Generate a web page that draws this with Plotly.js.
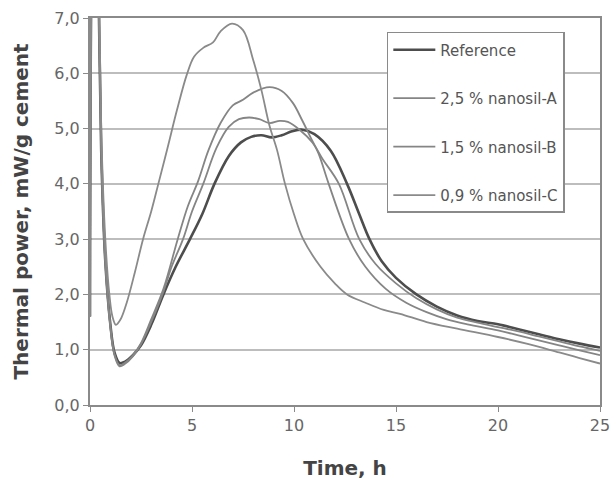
<!DOCTYPE html>
<html>
<head>
<meta charset="utf-8">
<script src="https://cdn.plot.ly/plotly-3.0.1.min.js"></script>
<style>
  html, body { margin: 0; padding: 0; background: #ffffff; }
  #chart { width: 613px; height: 483px; }
</style>
</head>
<body>
<div id="chart"></div>
<script>
// Heat flow calorimetry: thermal power of cement pastes, first 25 h
const seriesNames = ['Reference', '2,5 % nanosil-A', '1,5 % nanosil-B', '0,9 % nanosil-C'];

const refTime  = [0, 0.1, 0.25, 0.4, 0.55, 0.75, 1.0, 1.2, 1.45, 1.7, 2.1, 2.5, 3.0, 3.6, 4.2, 4.9, 5.5, 6.1, 6.8, 7.4, 7.9, 8.4, 8.9, 9.4, 9.9, 10.4, 11.0, 11.8, 12.6, 13.2, 13.7, 14.3, 15.0, 16.0, 17.0, 18.0, 19.0, 20.0, 21.0, 22.0, 23.0, 24.0, 25.0];
const refPower = [1.6, 8.5, 10.0, 8.0, 4.6, 2.6, 1.45, 0.95, 0.76, 0.78, 0.9, 1.08, 1.45, 2.0, 2.5, 3.0, 3.45, 4.0, 4.5, 4.75, 4.85, 4.88, 4.84, 4.88, 4.95, 4.98, 4.9, 4.6, 4.0, 3.45, 3.0, 2.6, 2.3, 2.0, 1.78, 1.62, 1.52, 1.46, 1.37, 1.28, 1.19, 1.11, 1.04];

const aTime  = [0, 0.1, 0.25, 0.4, 0.55, 0.75, 1.0, 1.2, 1.45, 1.7, 2.1, 2.5, 3.0, 3.6, 4.3, 4.8, 5.3, 5.8, 6.4, 7.0, 7.5, 8.0, 8.8, 9.4, 9.95, 10.4, 10.8, 11.2, 11.7, 12.7, 13.5, 14.5, 15.5, 16.5, 17.5, 18.5, 20.0, 21.0, 22.0, 23.0, 24.0, 25.0];
const aPower = [1.6, 8.5, 10.0, 8.0, 4.6, 2.6, 1.42, 0.92, 0.72, 0.76, 0.9, 1.12, 1.55, 2.1, 3.0, 3.6, 4.05, 4.6, 5.1, 5.42, 5.52, 5.65, 5.75, 5.68, 5.46, 5.15, 4.85, 4.55, 4.0, 3.0, 2.5, 2.1, 1.85, 1.68, 1.55, 1.46, 1.35, 1.26, 1.17, 1.08, 0.99, 0.9];

const bTime  = [0, 0.1, 0.25, 0.4, 0.55, 0.75, 1.0, 1.2, 1.45, 1.7, 2.1, 2.5, 3.0, 3.6, 4.0, 4.56, 5.0, 5.55, 6.2, 6.8, 7.3, 7.8, 8.3, 8.8, 9.3, 9.7, 10.3, 10.9, 11.4, 12.2, 13.2, 14.0, 15.0, 16.0, 17.0, 18.0, 19.0, 20.0, 21.0, 22.0, 23.0, 24.0, 25.0];
const bPower = [1.6, 8.5, 10.0, 8.0, 4.6, 2.6, 1.42, 0.9, 0.7, 0.74, 0.88, 1.1, 1.5, 2.05, 2.5, 3.0, 3.5, 4.0, 4.65, 5.03, 5.17, 5.2, 5.17, 5.1, 5.14, 5.12, 4.97, 4.75, 4.45, 4.0, 3.0, 2.55, 2.2, 1.93, 1.73, 1.58, 1.49, 1.41, 1.33, 1.24, 1.15, 1.06, 0.98];

const cTime  = [0, 0.1, 0.25, 0.4, 0.55, 0.75, 0.95, 1.1, 1.27, 1.5, 1.8, 2.2, 2.6, 3.0, 3.35, 3.8, 4.26, 4.75, 5.1, 5.55, 6.03, 6.4, 6.96, 7.5, 8.0, 8.4, 8.8, 9.17, 9.56, 10.0, 10.45, 11.3, 12.0, 12.6, 13.5, 14.4, 15.2, 16.5, 18.0, 20.0, 21.5, 23.0, 24.0, 25.0];
const cPower = [1.6, 8.5, 10.0, 8.5, 5.0, 3.0, 2.0, 1.6, 1.45, 1.55, 1.85, 2.4, 3.0, 3.5, 4.0, 4.65, 5.33, 5.98, 6.3, 6.46, 6.56, 6.76, 6.9, 6.78, 6.24, 5.7, 5.05, 4.61, 4.0, 3.45, 3.0, 2.5, 2.2, 2.0, 1.85, 1.72, 1.65, 1.5, 1.38, 1.23, 1.1, 0.95, 0.85, 0.75];

const xTicks = [0, 5, 10, 15, 20, 25];
const yTicks = [0, 1, 2, 3, 4, 5, 6, 7];

const lineColors = ['#4d4d4d', '#858585', '#858585', '#8a8a8a'];
const lineWidths = [2.6, 1.8, 1.8, 1.8];
const times = [refTime, aTime, bTime, cTime];
const powers = [refPower, aPower, bPower, cPower];

const traces = seriesNames.map((name, i) => ({
  type: 'scatter',
  mode: 'lines',
  name: name,
  legendgroup: 'g' + i,
  x: times[i],
  y: powers[i],
  line: { color: lineColors[i], width: lineWidths[i], shape: 'spline', smoothing: 1.0 },
  hoverinfo: 'skip'
}));

const titleFont = { size: 20, color: '#444444', family: 'DejaVu Sans, Verdana, sans-serif', weight: 'bold' };

const layout = {
  width: 613,
  height: 483,
  margin: { l: 90, r: 13, t: 18, b: 78 },
  paper_bgcolor: '#ffffff',
  plot_bgcolor: '#ffffff',
  separators: ', ',
  font: { family: 'DejaVu Sans, Verdana, sans-serif', color: '#555555', size: 15 },
  showlegend: true,
  legend: {
    x: 0.582, y: 0.964, xanchor: 'left', yanchor: 'top',
    bgcolor: '#ffffff',
    bordercolor: '#8a8a8a',
    borderwidth: 1.5,
    tracegroupgap: 26,
    itemwidth: 42,
    font: { size: 15, color: '#555555' }
  },
  xaxis: {
    range: [0, 25],
    tickvals: xTicks,
    ticktext: xTicks.map(String),
    showgrid: false,
    zeroline: false,
    showline: true,
    linecolor: '#8a8a8a',
    linewidth: 2,
    mirror: true,
    ticks: 'outside',
    ticklen: 5,
    tickcolor: '#8a8a8a',
    tickfont: { size: 16, color: '#666666' },
    title: { text: 'Time, h', font: titleFont, standoff: 27 }
  },
  yaxis: {
    range: [0, 7],
    tickvals: yTicks,
    tickformat: '.1f',
    showgrid: true,
    gridcolor: '#bdbdbd',
    gridwidth: 2,
    zeroline: false,
    showline: true,
    linecolor: '#8a8a8a',
    linewidth: 2,
    mirror: true,
    ticks: 'outside',
    ticklen: 5,
    tickcolor: '#8a8a8a',
    tickfont: { size: 16, color: '#666666' },
    title: { text: 'Thermal power, mW/g cement', font: titleFont, standoff: 20 }
  }
};

Plotly.newPlot('chart', traces, layout, { displayModeBar: false, staticPlot: true });
</script>
</body>
</html>
